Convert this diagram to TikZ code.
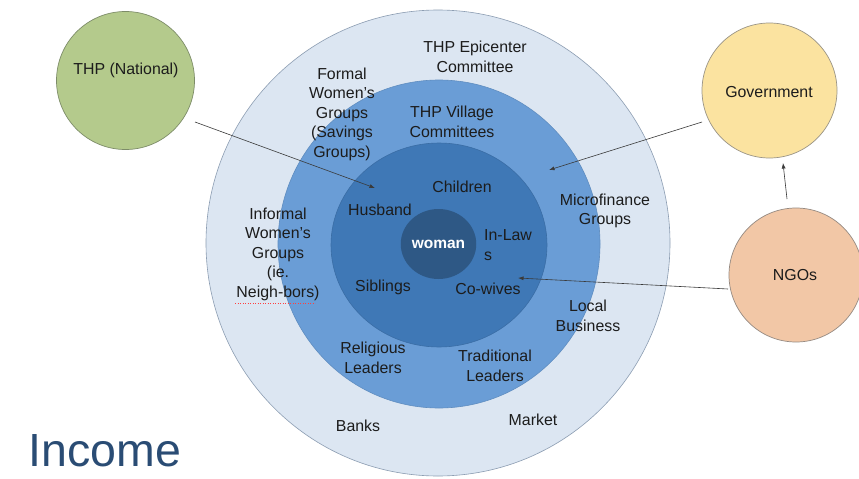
\documentclass[tikz,border=0pt]{standalone}
\usepackage{fontspec}
\setmainfont{Liberation Sans}
\usetikzlibrary{shapes.geometric,arrows.meta}

\definecolor{ringA}{HTML}{DCE6F2}
\definecolor{ringAline}{HTML}{8C9DB2}
\definecolor{ringB}{HTML}{6A9DD6}
\definecolor{ringBline}{HTML}{5F8DC0}
\definecolor{ringC}{HTML}{3F78B6}
\definecolor{ringCline}{HTML}{3A6DA5}
\definecolor{ringD}{HTML}{2E5885}
\definecolor{thpfill}{HTML}{B4CA8C}
\definecolor{thpline}{HTML}{7D8C68}
\definecolor{govfill}{HTML}{FBE3A0}
\definecolor{govline}{HTML}{9A9486}
\definecolor{ngofill}{HTML}{F2C7A6}
\definecolor{ngoline}{HTML}{958A82}
\definecolor{txt}{HTML}{1C1C1C}
\definecolor{lnk}{HTML}{3A3A3A}
\definecolor{incomeblue}{HTML}{2A4C74}

\begin{document}
\begin{tikzpicture}[x=1pt,y=-1pt,
  ring/.style={ellipse, inner sep=0pt, outer sep=0pt, line width=0.6pt},
  actor/.style={circle, inner sep=0pt, outer sep=0pt, line width=0.7pt},
  lbl/.style={font=\fontsize{15.9}{19.5}\selectfont, text=txt, align=center, inner sep=0pt},
  link/.style={draw=lnk, line width=0.6pt, -{Latex[length=5.5pt,width=4pt]}}]
\useasboundingbox (0,0) rectangle (859,479);
\fill[white] (0,0) rectangle (859,479);

% concentric circles of influence
\node[ring, fill=ringA, draw=ringAline, minimum width=464pt, minimum height=466pt] (outer) at (438,243) {};
\node[ring, fill=ringB, draw=ringBline, minimum width=322pt, minimum height=328pt] (middle) at (439,244) {};
\node[ring, fill=ringC, draw=ringCline, minimum width=216pt, minimum height=204pt] (inner) at (439,245) {};
\node[ring, fill=ringD, minimum width=71pt, minimum height=70pt,
      font=\fontsize{15.5}{18}\selectfont\bfseries, text=white] (woman) at (438.5,244) {woman};

% outside actors
\node[actor, fill=thpfill, draw=thpline, minimum size=138pt] (thp) at (125.5,80.5) {};
\node[actor, fill=govfill, draw=govline, minimum size=135pt] (gov) at (769.5,90.5) {};
\node[actor, fill=ngofill, draw=ngoline, minimum size=134pt] (ngo) at (796,275) {};
\node[lbl] (thplbl) at (126,70) {THP (National)};
\node[lbl] (govlbl) at (769,92) {Government};
\node[lbl] (ngolbl) at (795,275) {NGOs};

% ring labels
\node[lbl] (epi) at (475,57) {THP Epicenter\\Committee};
\node[lbl] (formal) at (342,114) {Formal\\Women's\\Groups\\(Savings\\Groups)};
\node[lbl] (village) at (452,122) {THP Village\\Committees};
\node[lbl] (children) at (462,187) {Children};
\node[lbl] (husband) at (380,210) {Husband};
\node[lbl, align=left, anchor=west] (inlaws) at (484,245) {In-Law\\s};
\node[lbl] (siblings) at (383,287) {Siblings};
\node[lbl] (cowives) at (488,289) {Co-wives};
\node[lbl] (micro) at (605,211) {Microfinance\\Groups};
\node[lbl] (informal) at (278,254) {Informal\\Women's\\Groups\\(ie.\\Neigh-bors)};
\node[lbl] (local) at (588,316) {Local\\Business};
\node[lbl] (relig) at (373,358) {Religious\\Leaders};
\node[lbl] (trad) at (495,366) {Traditional\\Leaders};
\node[lbl] (banks) at (358,426) {Banks};
\node[lbl] (market) at (533,420) {Market};

% spell-check underline under the hyphenated word
\coordinate (sq1) at (235,303);
\coordinate (sq2) at (315,303);
\draw[red!75, line width=0.5pt, dotted] (sq1) -- (sq2);

% influence arrows
\coordinate (thpOut) at (195,122);
\coordinate (thpIn) at (375,188);
\coordinate (govOut) at (702,122);
\coordinate (govIn) at (549,170);
\coordinate (ngoOut) at (728,289);
\coordinate (ngoIn) at (518,278);
\coordinate (ngoTop) at (787,199);
\coordinate (govBot) at (783,163);
\draw[link] (thpOut) -- (thpIn);
\draw[link] (govOut) -- (govIn);
\draw[link] (ngoOut) -- (ngoIn);
\draw[link] (ngoTop) -- (govBot);

% title
\node[font=\fontsize{46.5}{50}\selectfont, text=incomeblue, anchor=base west, inner sep=0pt] (income) at (28.5,466) {Income};
\end{tikzpicture}
\end{document}
